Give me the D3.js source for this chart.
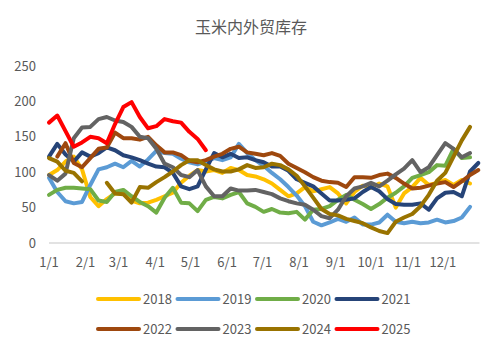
<!DOCTYPE html>
<html>
<head>
<meta charset="utf-8">
<script src="https://cdn.jsdelivr.net/npm/d3@7"></script>
<style>
body { margin: 0; background: #fff; }
svg { font-family: "Noto Sans CJK SC", "Liberation Sans", sans-serif; }
</style>
</head>
<body>
<script>
// weekly values, point i = day 7*i of the year (null = gap)
let years = ["2018", "2019", "2020", "2021", "2022", "2023", "2024", "2025"];
let colors = ["#FFC000", "#5B9BD5", "#70AD47", "#264478", "#9E480E", "#636363", "#997300", "#FF0000"];
let v2018 = [96,103,115,122,104,65,52,62,70,70,60,56,57,61,66,71,85,95,103,101,103,99,106,103,96,94,90,84,75,66,70,79,73,76,79,70,56,72,81,78,84,80,50,70,79,92,82,85,89,82,89,84];
let v2019 = [92,72,59,56,58,82,104,107,112,107,116,108,118,130,127,126,119,114,111,115,120,117,121,140,127,117,109,99,90,79,67,52,30,25,29,34,30,36,26,26,29,40,30,28,30,28,29,33,29,31,36,51];
let v2020 = [68,75,78,78,77,76,60,58,72,75,66,58,52,43,64,78,57,56,45,61,65,63,68,72,56,51,44,48,43,42,44,33,47,48,52,61,68,61,55,48,55,64,71,80,92,96,100,110,109,133,120,121];
let v2021 = [122,140,125,115,128,122,127,135,131,124,121,117,112,108,107,99,80,76,80,104,127,121,126,120,121,117,114,108,108,102,90,85,80,70,60,60,61,63,72,79,73,62,55,54,54,56,47,63,71,72,66,101,113];
let v2022 = [null,122,141,113,107,120,133,135,156,148,148,146,150,138,128,128,124,116,114,117,122,126,133,136,128,126,124,127,123,112,106,100,93,88,86,85,79,93,93,92,96,98,92,84,77,78,81,84,86,79,87,96,103];
let v2023 = [96,88,98,148,163,164,175,178,173,171,164,150,148,133,112,107,96,93,103,80,66,66,77,74,74,75,72,69,63,59,56,54,47,38,35,47,66,77,80,85,80,88,97,105,117,100,107,124,141,133,121,127];
let v2024 = [120,115,102,99,87,null,null,85,70,69,57,79,78,86,93,101,110,117,117,110,104,101,101,104,110,106,107,112,110,104,95,80,64,48,41,39,34,31,28,22,17,14,30,36,41,52,68,88,99,122,145,164];
let v2025 = [170,180,158,136,142,150,148,141,168,192,199,178,162,165,175,172,170,157,147,131];
let yTicks = [0, 50, 100, 150, 200, 250];
let monthLabels = ["1/1","2/1","3/1","4/1","5/1","6/1","7/1","8/1","9/1","10/1","11/1","12/1"];
let monthDays = [0,31,59,90,120,151,181,212,243,273,304,334];

let series = [v2018, v2019, v2020, v2021, v2022, v2023, v2024, v2025];

let svg = d3.select("body").append("svg").attr("width", 502).attr("height", 354);

let x = d3.scaleLinear().domain([0, 365]).range([49, 479.5]);
let y = d3.scaleLinear().domain([0, 250]).range([243, 66]);

svg.append("text").attr("x", 251).attr("y", 33).attr("text-anchor", "middle")
    .attr("font-size", 16).attr("fill", "#595959").text("玉米内外贸库存");

// y labels
svg.selectAll("text.ytick").data(yTicks).enter().append("text").attr("class", "ytick")
    .attr("x", 36).attr("y", d => y(d) + 4.5).attr("text-anchor", "end")
    .attr("font-size", 13).attr("fill", "#595959").text(d => d);

// x axis line + labels
svg.append("line").attr("x1", x(0)).attr("x2", x(365)).attr("y1", y(0)).attr("y2", y(0))
    .attr("stroke", "#D9D9D9").attr("stroke-width", 1.5);
svg.selectAll("text.xtick").data(monthDays).enter().append("text").attr("class", "xtick")
    .attr("x", d => x(d)).attr("y", 267).attr("text-anchor", "middle")
    .attr("font-size", 13).attr("fill", "#595959").text((d, i) => monthLabels[i]);

let line = d3.line().defined(d => d != null).x((d, i) => x(i * 7)).y(d => y(d));

svg.selectAll("path.series").data(series).enter().append("path").attr("class", "series")
    .attr("d", d => line(d)).attr("fill", "none")
    .attr("stroke", (d, i) => colors[i]).attr("stroke-width", 4)
    .attr("stroke-linejoin", "round").attr("stroke-linecap", "round");

// legend, two rows of four
let leg = svg.selectAll("g.leg").data(years).enter().append("g").attr("class", "leg")
    .attr("transform", (d, i) => "translate(" + (98 + (i % 4) * 79.5) + "," + (299 + Math.floor(i / 4) * 30) + ")");
leg.append("line").attr("x1", 0).attr("x2", 41).attr("y1", 0).attr("y2", 0)
    .attr("stroke", (d, i) => colors[i]).attr("stroke-width", 4).attr("stroke-linecap", "round");
leg.append("text").attr("x", 45).attr("y", 5).attr("font-size", 13).attr("fill", "#595959").text(d => d);
</script>
</body>
</html>
